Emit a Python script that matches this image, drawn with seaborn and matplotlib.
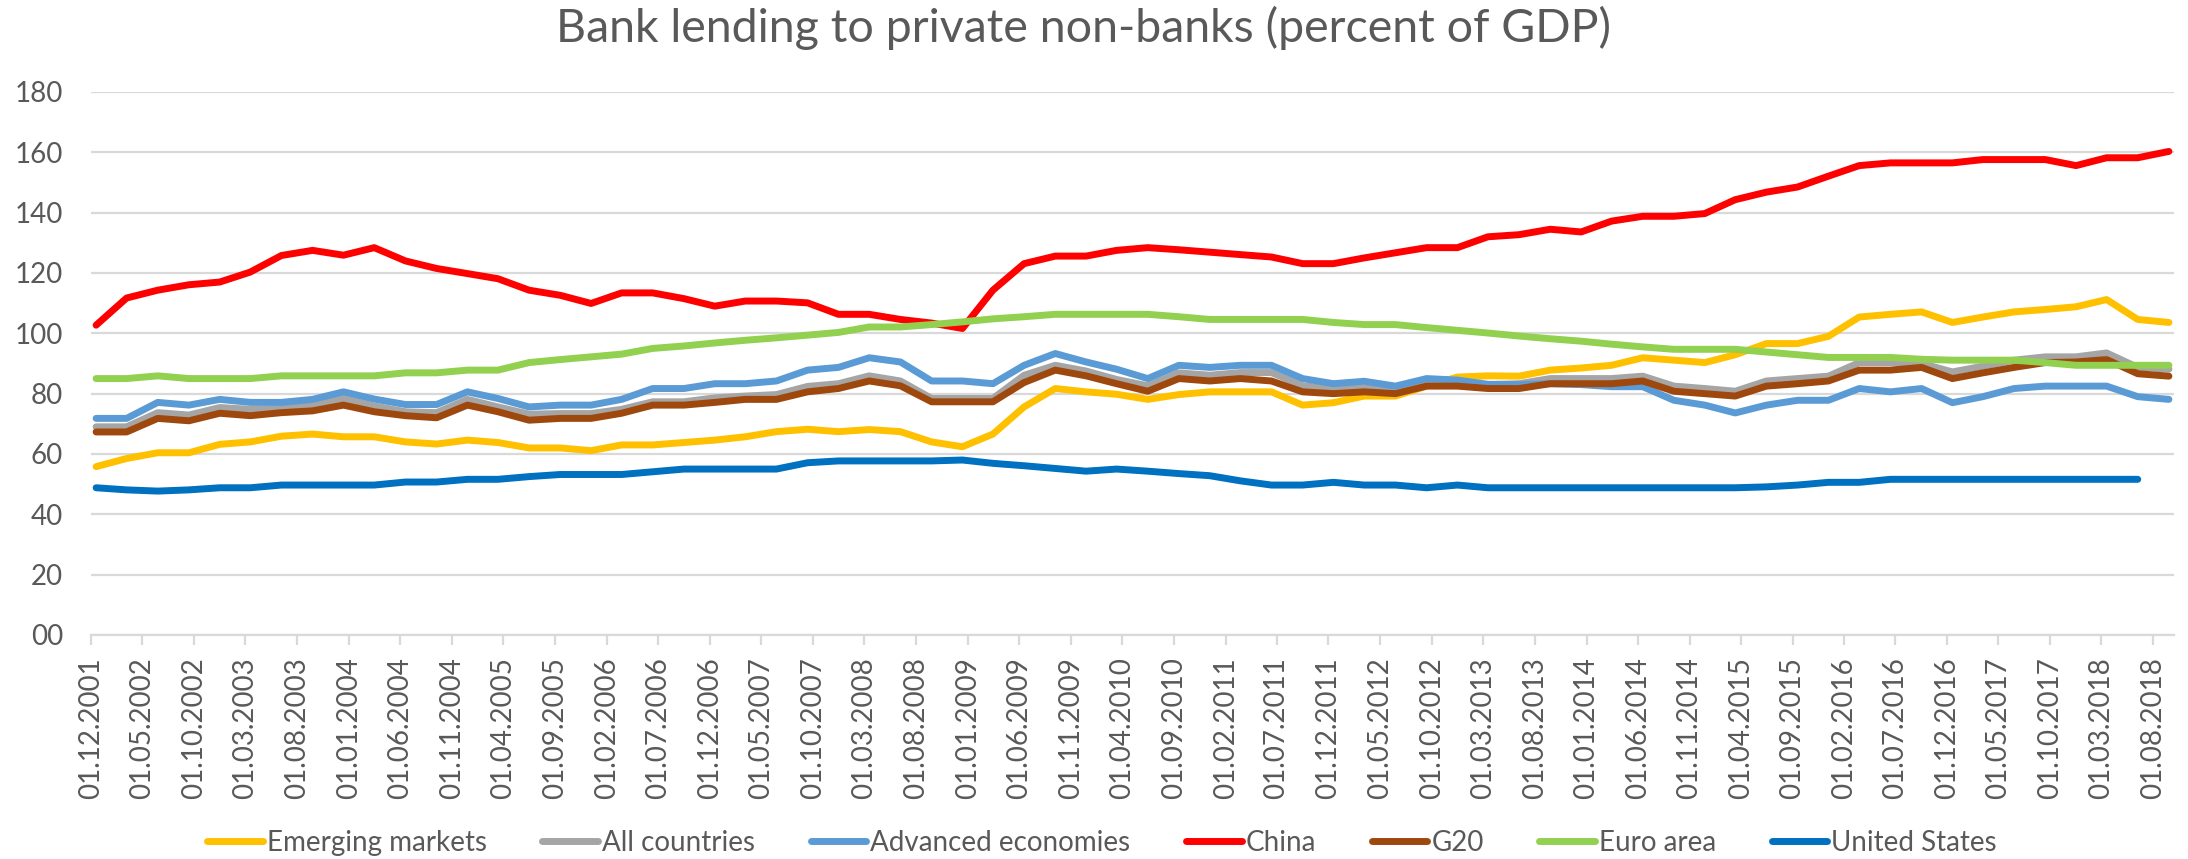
import numpy as np
import pandas as pd
import matplotlib
matplotlib.use("Agg")
import matplotlib.pyplot as plt
import matplotlib.dates as mdates
from matplotlib.ticker import FuncFormatter
import seaborn as sns

# Quarterly observations, Dec 2001 .. Sep 2018
dates = pd.date_range("2001-12-01", periods=68, freq="3MS")

emerging_markets = [
    55.8, 58.5, 60.4, 60.4, 63.2, 64.0, 65.9, 66.6, 65.7, 65.7, 64.0, 63.3,
    64.6, 63.8, 62.0, 62.0, 61.1, 63.0, 63.0, 63.8, 64.6, 65.7, 67.4,
    68.2, 67.4, 68.1, 67.4, 64.0, 62.4, 66.6, 75.6, 81.7, 80.6, 79.8,
    78.1, 79.7, 80.6, 80.6, 80.6, 76.2, 77.0, 79.2, 79.2, 82.5, 85.5, 85.9,
    85.8, 87.8, 88.5, 89.4, 91.9, 91.1, 90.3, 92.9, 96.6, 96.6, 99.0,
    105.4, 106.3, 107.1, 103.6, 105.4, 107.1, 107.9, 108.8, 111.2, 104.6, 103.6,
]
all_countries = [
    69.0, 69.0, 73.7, 72.9, 75.4, 74.8, 75.1, 76.2, 78.4, 75.9, 74.0, 73.7,
    78.1, 75.6, 73.2, 73.4, 73.4, 74.8, 77.3, 77.3, 78.6, 79.2, 79.7,
    82.4, 83.3, 85.9, 84.2, 78.4, 78.4, 78.4, 86.1, 89.4, 87.5, 84.7,
    82.6, 86.9, 86.1, 87.0, 87.0, 82.6, 81.7, 81.9, 80.8, 83.3, 83.3, 83.0,
    83.3, 85.0, 85.0, 85.0, 85.8, 82.5, 81.7, 80.8, 84.2, 85.0, 85.8,
    90.3, 90.3, 90.0, 87.2, 89.1, 91.1, 92.2, 92.2, 93.5, 88.7, 88.1,
]
advanced_economies = [
    71.8, 71.8, 77.1, 76.2, 78.1, 77.1, 77.1, 78.1, 80.6, 78.2, 76.4, 76.4,
    80.6, 78.4, 75.6, 76.2, 76.2, 78.1, 81.7, 81.7, 83.3, 83.3, 84.2,
    87.8, 88.7, 91.9, 90.5, 84.2, 84.2, 83.3, 89.4, 93.3, 90.5, 88.1,
    85.0, 89.4, 88.7, 89.4, 89.4, 85.0, 83.3, 84.1, 82.5, 85.0, 84.5, 83.1,
    83.0, 83.3, 83.0, 82.3, 82.3, 77.8, 76.2, 73.6, 76.2, 77.8, 77.8,
    81.7, 80.6, 81.7, 77.0, 79.0, 81.7, 82.5, 82.5, 82.5, 79.0, 78.1,
]
china = [
    102.7, 111.7, 114.3, 116.1, 117.0, 120.3, 125.8, 127.5, 125.9, 128.4, 124.0, 121.5,
    119.8, 118.1, 114.3, 112.6, 109.9, 113.4, 113.4, 111.5, 109.0, 110.7, 110.7,
    110.1, 106.3, 106.3, 104.6, 103.4, 101.6, 114.3, 123.1, 125.6, 125.6, 127.5,
    128.4, 127.7, 126.9, 126.1, 125.3, 123.1, 123.1, 125.0, 126.7, 128.4, 128.4, 132.0,
    132.7, 134.5, 133.6, 137.2, 138.8, 138.8, 139.7, 144.3, 146.8, 148.5, 152.1,
    155.6, 156.5, 156.5, 156.5, 157.6, 157.6, 157.6, 155.6, 158.2, 158.2, 160.3,
]
g20 = [
    67.3, 67.3, 71.8, 71.0, 73.5, 72.7, 73.7, 74.3, 76.2, 74.0, 72.7, 72.0,
    76.2, 74.0, 71.2, 71.8, 71.8, 73.5, 76.2, 76.2, 77.1, 78.1, 78.1,
    80.6, 81.7, 84.2, 82.6, 77.3, 77.3, 77.3, 83.7, 87.8, 85.9, 83.3,
    80.8, 85.0, 84.2, 85.0, 84.2, 80.6, 80.0, 80.6, 80.0, 82.5, 82.5, 81.7,
    81.7, 83.3, 83.3, 83.3, 84.2, 80.8, 80.0, 79.2, 82.5, 83.3, 84.2,
    87.8, 87.8, 88.7, 85.0, 86.9, 88.7, 90.3, 90.5, 91.3, 86.6, 85.8,
]
euro_area = [
    85.0, 85.0, 85.9, 85.0, 85.0, 85.0, 85.9, 85.9, 85.9, 85.9, 86.9, 86.9,
    87.8, 87.8, 90.3, 91.3, 92.2, 93.1, 95.0, 95.8, 96.8, 97.7, 98.5,
    99.4, 100.3, 102.1, 102.1, 102.9, 103.8, 104.8, 105.5, 106.3, 106.3, 106.3,
    106.3, 105.5, 104.6, 104.6, 104.6, 104.6, 103.6, 102.9, 102.9, 101.9, 101.0, 100.1,
    99.1, 98.2, 97.4, 96.4, 95.5, 94.7, 94.7, 94.7, 93.8, 92.9, 92.0,
    92.0, 92.0, 91.4, 91.1, 91.1, 91.1, 90.3, 89.4, 89.4, 89.4, 89.4,
]
united_states = [
    48.8, 48.1, 47.7, 48.1, 48.8, 48.8, 49.7, 49.7, 49.7, 49.7, 50.7, 50.7,
    51.6, 51.6, 52.5, 53.2, 53.2, 53.2, 54.1, 55.0, 55.0, 55.0, 55.0,
    57.1, 57.7, 57.7, 57.7, 57.7, 58.0, 56.9, 56.1, 55.2, 54.3, 55.0,
    54.3, 53.5, 52.8, 51.1, 49.7, 49.7, 50.6, 49.7, 49.7, 48.8, 49.7, 48.8,
    48.8, 48.8, 48.8, 48.8, 48.8, 48.8, 48.8, 48.8, 49.1, 49.7, 50.6,
    50.6, 51.6, 51.6, 51.6, 51.6, 51.6, 51.6, 51.6, 51.6, 51.6, np.nan,
]

series_names = ["Emerging markets", "All countries", "Advanced economies",
                "China", "G20", "Euro area", "United States"]
series_values = [emerging_markets, all_countries, advanced_economies,
                 china, g20, euro_area, united_states]
series_colors = ["#FFC000", "#A5A5A5", "#5B9BD5", "#FF0000",
                 "#9E480E", "#92D050", "#0070C0"]

y_ticks = [0, 20, 40, 60, 80, 100, 120, 140, 160, 180]

# Long-form table; points sit in the middle of their month on the date axis
frames = []
for name, vals in zip(series_names, series_values):
    frames.append(pd.DataFrame({"date": dates + pd.Timedelta(days=15),
                                "value": vals, "series": name}))
df = pd.concat(frames, ignore_index=True).dropna()

sns.set_theme(style="white")
plt.rcParams["font.family"] = ["Lato", "DejaVu Sans"]
text_color = "#595959"
grid_color = "#D9D9D9"

fig = plt.figure(figsize=(21.88, 8.59), dpi=100)
ax = fig.add_axes([0.0416, 0.2608, 0.9520, 0.6321])

sns.lineplot(data=df, x="date", y="value", hue="series",
             hue_order=series_names, palette=series_colors,
             linewidth=5, estimator=None, sort=False, ax=ax,
             solid_capstyle="round", solid_joinstyle="round")

ax.set_ylim(0, 180)
ax.set_yticks(y_ticks)
ax.yaxis.set_major_formatter(FuncFormatter(lambda v, p: f"{int(v):02d}"))
ax.set_xlim(pd.Timestamp("2001-12-01"), pd.Timestamp("2018-10-01"))
tick_dates = pd.date_range("2001-12-01", "2018-08-01", freq="5MS")
ax.set_xticks(tick_dates)
ax.xaxis.set_major_formatter(mdates.DateFormatter("%d.%m.%Y"))

ax.grid(axis="y", color=grid_color, linewidth=1.6)
ax.set_axisbelow(True)
for side in ["left", "right", "top"]:
    ax.spines[side].set_visible(False)
ax.spines["bottom"].set_color(grid_color)
ax.spines["bottom"].set_linewidth(1.6)

ax.tick_params(axis="y", length=0, pad=20, labelsize=20, labelcolor=text_color)
ax.tick_params(axis="x", bottom=True, length=7, width=1.6, color=grid_color,
               pad=9, labelsize=20, labelcolor=text_color, labelrotation=90)
ax.set_xlabel("")
ax.set_ylabel("")

handles, labels = ax.get_legend_handles_labels()
ax.legend_.remove()
leg = fig.legend(handles, labels, loc="center", bbox_to_anchor=(0.5037, 0.019),
                 ncol=7, frameon=False, fontsize=20, handlelength=2.0,
                 handletextpad=0.15, columnspacing=2.0)
for t in leg.get_texts():
    t.set_color(text_color)
for h in leg.get_lines():
    h.set_linewidth(5)
    h.set_solid_capstyle("round")

fig.text(0.495, 0.967, "Bank lending to private non-banks (percent of GDP)",
         ha="center", va="center", fontsize=33.5, color=text_color,
         fontweight="normal")

fig.savefig("out.png", dpi=100)
